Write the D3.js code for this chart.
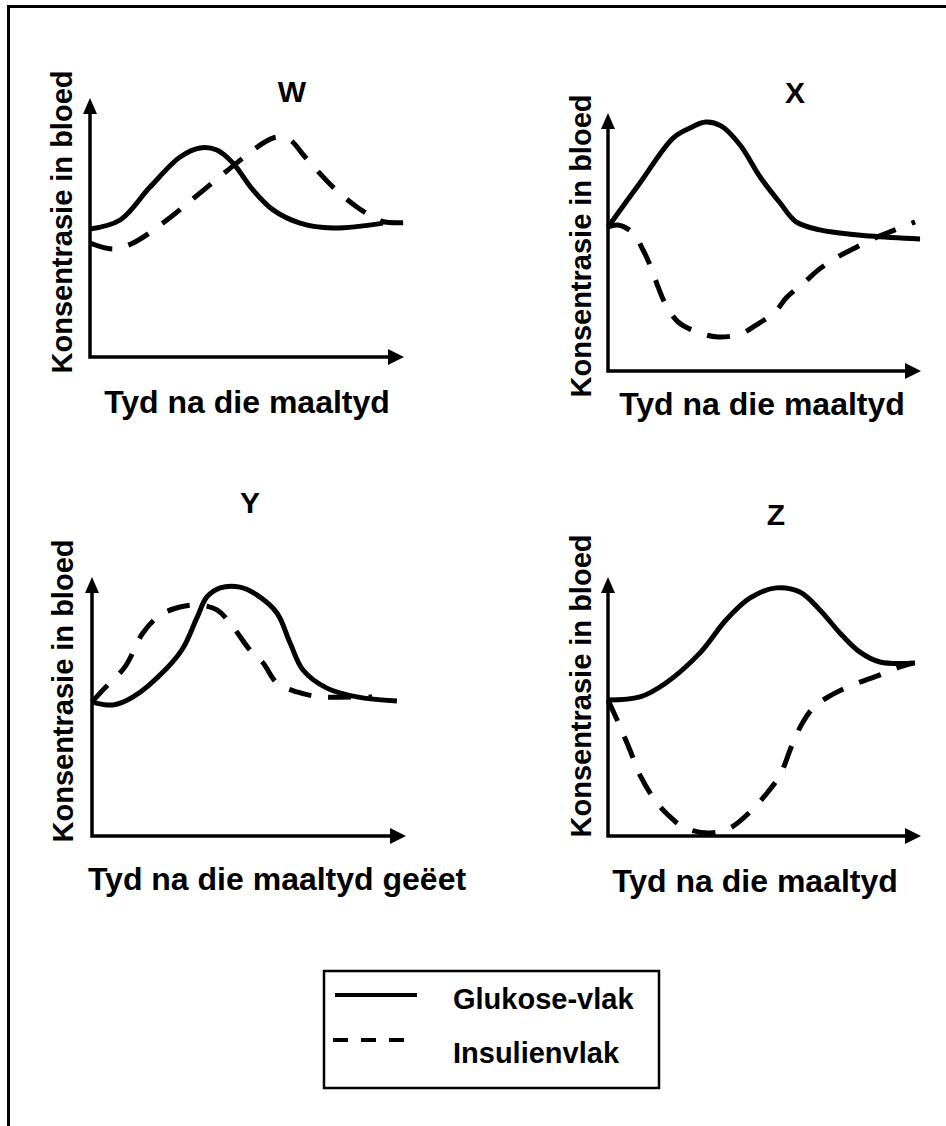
<!DOCTYPE html>
<html>
<head>
<meta charset="utf-8">
<script src="https://cdn.jsdelivr.net/npm/d3@7"></script>
<style>
  body { margin: 0; background: #fff; }
  svg text { font-family: "Liberation Sans", Arial, sans-serif; font-weight: bold; fill: #000; }
</style>
</head>
<body>
<div id="chart"></div>
<script>
// data: [time, concentration] (both on a 0-10 scale)
const wGlucose = [[0,4.94],[0.96,5.29],[1.91,6.56],[2.87,7.72],[3.5,8.07],[4.04,7.99],[4.55,7.49],[5.19,6.45],[5.83,5.68],[6.69,5.17],[7.74,4.98],[9.33,5.17]];
const wInsulin = [[0,4.4],[0.73,4.17],[1.37,4.4],[2.45,5.29],[3.5,6.33],[4.87,7.68],[5.57,8.3],[5.96,8.49],[6.37,8.38],[6.85,7.72],[7.74,6.56],[8.5,5.79],[9.01,5.41],[9.39,5.21],[10.35,5.21]];

const xGlucose = [[0,5.58],[1.02,7.29],[2.08,9.03],[2.62,9.42],[3.13,9.65],[3.61,9.5],[4.22,8.76],[4.86,7.52],[5.5,6.51],[6.01,5.78],[6.77,5.47],[8.37,5.23],[9.97,5.12]];
const xInsulin = [[0,5.58],[0.32,5.66],[0.8,5.35],[1.12,4.69],[1.37,4.03],[1.6,3.26],[1.85,2.56],[2.24,1.9],[2.94,1.47],[3.51,1.32],[4.22,1.43],[4.73,1.78],[5.34,2.29],[5.69,2.83],[6.29,3.45],[6.71,3.91],[7.28,4.38],[7.89,4.77],[8.53,5.16],[9.01,5.39],[9.81,5.78]];

const yGlucose = [[0,5.17],[0.67,5.06],[1.31,5.37],[2.39,6.49],[2.9,7.26],[3.34,8.42],[3.66,9.23],[4.08,9.58],[4.71,9.61],[5.25,9.31],[5.89,8.61],[6.31,7.45],[6.72,6.41],[7.48,5.71],[8.44,5.37],[9.71,5.21]];
const yInsulin = [[0,5.17],[0.35,5.64],[1.05,6.53],[1.62,7.84],[2.17,8.53],[2.8,8.84],[3.34,8.92],[3.98,8.73],[4.49,8.07],[5.03,7.18],[5.45,6.68],[5.89,5.91],[6.53,5.56],[7.26,5.37],[8.22,5.37],[8.92,5.37]];

const zGlucose = [[0,5.25],[1.02,5.37],[1.85,5.91],[2.94,7.07],[3.77,8.34],[4.54,9.19],[5.37,9.58],[6.13,9.42],[6.77,8.73],[7.41,7.84],[8.05,7.1],[8.69,6.72],[9.81,6.68]];
const zInsulin = [[0,5.25],[0.32,4.4],[0.7,3.32],[1.05,2.28],[1.5,1.39],[1.92,0.81],[2.46,0.31],[3.26,0.12],[3.9,0.31],[4.54,0.93],[5.11,1.7],[5.5,2.36],[5.88,3.51],[6.23,4.4],[6.61,5.02],[7.09,5.41],[7.73,5.79],[8.69,6.22],[9.33,6.53],[9.74,6.68]];

const panelNames = ["W", "X", "Y", "Z"];
const yLabel = "Konsentrasie in bloed";
const xLabels = ["Tyd na die maaltyd", "Tyd na die maaltyd", "Tyd na die maaltyd geëet", "Tyd na die maaltyd"];
const legendLabels = ["Glukose-vlak", "Insulienvlak"];

// 1: LAYOUT
const W = 946, H = 1126;
const svg = d3.select("#chart").append("svg")
    .attr("width", W)
    .attr("height", H);

// outer frame (right and bottom edges fall outside the picture)
svg.append("path")
    .attr("d", "M8.5,1126 V6.5 H946")
    .attr("fill", "none")
    .attr("stroke", "#000")
    .attr("stroke-width", 3);

// axis box of each panel: left, right (arrow tip), bottom, top (arrow tip)
const layout = [
  { x0: 90,  x1: 404, y0: 357, y1: 98,  title: [292, 102], ylab: [72, 222],  xlab: [247, 413] },
  { x0: 608, x1: 921, y0: 371, y1: 113, title: [795, 103], ylab: [591, 246], xlab: [762, 415] },
  { x0: 92,  x1: 406, y0: 836, y1: 577, title: [250, 513], ylab: [73, 691],  xlab: [277, 890] },
  { x0: 608, x1: 921, y0: 836, y1: 577, title: [776, 525], ylab: [591, 686], xlab: [755, 892] }
];
const series = [[wGlucose, wInsulin], [xGlucose, xInsulin], [yGlucose, yInsulin], [zGlucose, zInsulin]];

layout.forEach((p, i) => {
  const g = svg.append("g");
  const xScale = d3.scaleLinear().domain([0, 10]).range([p.x0, p.x1]);
  const yScale = d3.scaleLinear().domain([0, 10]).range([p.y0, p.y1]);

  // axes with arrow heads
  const ax = xScale(0), ay = yScale(0), tx = xScale(10), ty = yScale(10);
  g.append("path")
      .attr("d", `M${ax},${ty + 10} V${ay} H${tx - 10}`)
      .attr("fill", "none")
      .attr("stroke", "#000")
      .attr("stroke-width", 3.5);
  g.append("path")
      .attr("d", `M${ax},${ty} L${ax - 7},${ty + 16} L${ax + 7},${ty + 16} Z`);
  g.append("path")
      .attr("d", `M${tx},${ay} L${tx - 16},${ay - 8} L${tx - 16},${ay + 8} Z`);

  const line = d3.line()
      .x(d => xScale(d[0]))
      .y(d => yScale(d[1]))
      .curve(d3.curveCatmullRom.alpha(0.5));

  // glucose (solid) and insulin (dashed)
  g.append("path")
      .attr("d", line(series[i][0]))
      .attr("fill", "none")
      .attr("stroke", "#000")
      .attr("stroke-width", 5)
      .attr("stroke-linejoin", "round");
  g.append("path")
      .attr("d", line(series[i][1]))
      .attr("fill", "none")
      .attr("stroke", "#000")
      .attr("stroke-width", 5)
      .attr("stroke-dasharray", "23,17");

  // labels
  g.append("text")
      .attr("x", p.title[0]).attr("y", p.title[1])
      .attr("text-anchor", "middle")
      .style("font-size", "30px")
      .text(panelNames[i]);
  g.append("text")
      .attr("transform", `translate(${p.ylab[0]},${p.ylab[1]}) rotate(-90)`)
      .attr("text-anchor", "middle")
      .style("font-size", "29px")
      .text(yLabel);
  g.append("text")
      .attr("x", p.xlab[0]).attr("y", p.xlab[1])
      .attr("text-anchor", "middle")
      .style("font-size", "32px")
      .text(xLabels[i]);
});

// 2: LEGEND
const legend = svg.append("g");
legend.append("rect")
    .attr("x", 324).attr("y", 971)
    .attr("width", 335).attr("height", 117)
    .attr("fill", "none")
    .attr("stroke", "#000")
    .attr("stroke-width", 2.5);

legend.selectAll("line.key")
    .data(legendLabels)
    .enter()
    .append("line")
    .attr("class", "key")
    .attr("x1", (d, i) => i === 0 ? 335 : 333)
    .attr("x2", (d, i) => i === 0 ? 417 : 405)
    .attr("y1", (d, i) => 995 + i * 45)
    .attr("y2", (d, i) => 995 + i * 45)
    .attr("stroke", "#000")
    .attr("stroke-width", 4)
    .attr("stroke-dasharray", (d, i) => i === 0 ? null : "15,13");

legend.selectAll("text")
    .data(legendLabels)
    .enter()
    .append("text")
    .attr("x", 453)
    .attr("y", (d, i) => 1009 + i * 54)
    .style("font-size", "29px")
    .text(d => d);
</script>
</body>
</html>
